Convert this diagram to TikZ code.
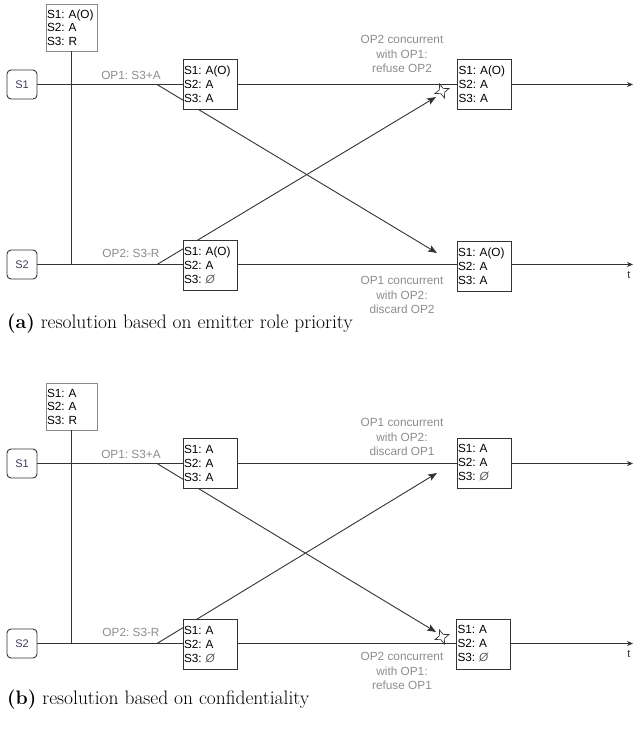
\documentclass[tikz,border=0pt]{standalone}
\usepackage{fontspec}
\newfontfamily\dsans{Liberation Sans}
\usetikzlibrary{arrows.meta,shapes.geometric}
\definecolor{ln}{HTML}{333333}
\definecolor{lbl}{HTML}{8C8C8C}
\definecolor{srvtxt}{HTML}{3D3D5C}
\definecolor{initbd}{HTML}{8A8A8A}
\newcommand{\emp}{{\itshape\color{ln!80}Ø}}
\frenchspacing
\tikzset{
 ln/.style={draw=ln, line width=0.9pt},
 srv/.style={draw=ln, line width=0.9pt, rounded corners=4pt, minimum width=30pt, minimum height=29pt, inner sep=0pt, font=\dsans\fontsize{11}{13}\selectfont, text=srvtxt},
 state/.style={draw=ln, line width=0.9pt, fill=white, minimum width=54pt, minimum height=50pt, text width=52pt, inner xsep=1pt, inner ysep=0pt, align=left, font=\dsans\frenchspacing\fontsize{11.8}{14}\selectfont},
 init/.style={state, draw=initbd, minimum width=51pt, minimum height=47pt, text width=49pt, font=\dsans\frenchspacing\fontsize{11.8}{13.5}\selectfont},
 oplbl/.style={text=lbl, font=\dsans\frenchspacing\fontsize{11.8}{14}\selectfont, inner sep=0pt},
 cmt/.style={text=lbl, font=\dsans\frenchspacing\fontsize{11.8}{14.5}\selectfont, align=center, inner sep=0pt},
 tlbl/.style={text=ln, font=\dsans\fontsize{11}{13}\selectfont, inner sep=0pt},
 diag/.style={ln, -{Stealth[length=9pt,width=7pt,inset=2pt]}},
 tl/.style={ln, -{Stealth[length=6pt,width=5pt]}},
 refuse/.style={star, star points=4, star point ratio=2.6, draw=ln, line width=0.7pt, fill=white, minimum size=15pt, inner sep=0pt, rotate=20},
 capt/.style={anchor=base west, inner sep=0pt, font=\fontsize{19.5}{23}\selectfont},
}
\begin{document}
\begin{tikzpicture}[x=1pt,y=-1pt]
\useasboundingbox (0,0) rectangle (634,729);
% ---------------- panel (a) ----------------
\node[srv] (a-s1) at (22,84.5) {S1};
\node[srv] (a-s2) at (22,264.5) {S2};
\coordinate (a-e1) at (633,84.5);
\coordinate (a-e2) at (633,264.5);
\coordinate (a-j2) at (71.5,264.5);
\coordinate (a-o1) at (157,84.5);
\coordinate (a-o2) at (157,264.5);
\coordinate (a-t1) at (437,253);
\coordinate (a-t2) at (436,97);
\node[init] (a-init) at (71.5,27.5) {S1: A(O)\\S2: A\\S3: R};
\draw[tl] (a-s1.east) -- (a-e1);
\draw[tl] (a-s2.east) -- (a-e2);
\draw[ln] (a-init.south) -- (a-j2);
\draw[diag] (a-o1) -- (a-t1);
\draw[diag] (a-o2) -- (a-t2);
\node[state] (a-m1) at (210,84) {S1: A(O)\\S2: A\\S3: A};
\node[state] (a-m2) at (210,265.5) {S1: A(O)\\S2: A\\S3: \emp};
\node[state] (a-r1) at (484.5,84) {S1: A(O)\\S2: A\\S3: A};
\node[state] (a-r2) at (484,266) {S1: A(O)\\S2: A\\S3: A};
\node[refuse] (a-x) at (442,91) {};
\node[oplbl] (a-op1) at (131,75) {OP1: S3+A};
\node[oplbl] (a-op2) at (131,253) {OP2: S3-R};
\node[cmt] (a-c1) at (402,54) {OP2 concurrent\\with OP1:\\refuse OP2};
\node[cmt] (a-c2) at (402,295) {OP1 concurrent\\with OP2:\\discard OP2};
\node[tlbl] (a-t) at (629,275) {t};
\node[capt] (a-cap) at (7,328) {\textbf{(a)} resolution based on emitter role priority};
% ---------------- panel (b) ----------------
\begin{scope}[yshift=-379pt]
\node[srv] (b-s1) at (22,84.5) {S1};
\node[srv] (b-s2) at (22,264.5) {S2};
\coordinate (b-e1) at (633,84.5);
\coordinate (b-e2) at (633,264.5);
\coordinate (b-j2) at (71.5,264.5);
\coordinate (b-o1) at (157,84.5);
\coordinate (b-o2) at (157,264.5);
\coordinate (b-t1) at (436,253);
\coordinate (b-t2) at (437,94);
\node[init] (b-init) at (71.5,27.5) {S1: A\\S2: A\\S3: R};
\draw[tl] (b-s1.east) -- (b-e1);
\draw[tl] (b-s2.east) -- (b-e2);
\draw[ln] (b-init.south) -- (b-j2);
\draw[diag] (b-o1) -- (b-t1);
\draw[diag] (b-o2) -- (b-t2);
\node[state] (b-m1) at (210,84) {S1: A\\S2: A\\S3: A};
\node[state] (b-m2) at (210,265.5) {S1: A\\S2: A\\S3: \emp};
\node[state] (b-r1) at (484,84) {S1: A\\S2: A\\S3: \emp};
\node[state] (b-r2) at (483.5,265) {S1: A\\S2: A\\S3: \emp};
\node[refuse] (b-x) at (442,258) {};
\node[oplbl] (b-op1) at (131,75) {OP1: S3+A};
\node[oplbl] (b-op2) at (131,253) {OP2: S3-R};
\node[cmt] (b-c1) at (402,58) {OP1 concurrent\\with OP2:\\discard OP1};
\node[cmt] (b-c2) at (402,292) {OP2 concurrent\\with OP1:\\refuse OP1};
\node[tlbl] (b-t) at (629,275) {t};
\node[capt] (b-cap) at (7,325) {\textbf{(b)} resolution based on confidentiality};
\end{scope}
\end{tikzpicture}
\end{document}
